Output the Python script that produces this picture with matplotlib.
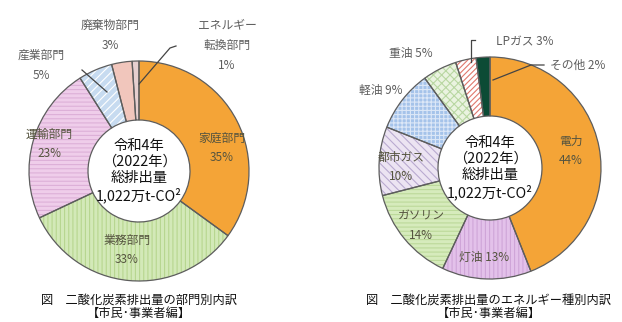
import matplotlib.pyplot as plt

plt.rcParams['font.family'] = ['Noto Sans CJK JP', 'DejaVu Sans']
plt.rcParams['hatch.linewidth'] = 0.8

# 部門別
bumon_labels = ['家庭部門', '業務部門', '運輸部門', '産業部門', '廃棄物部門', 'エネルギー転換部門']
bumon_values = [35, 33, 23, 5, 3, 1]

# エネルギー種別
energy_labels = ['電力', '灯油', 'ガソリン', '都市ガス', '軽油', '重油', 'LPガス', 'その他']
energy_values = [44, 13, 14, 10, 9, 5, 3, 2]

center_text = '令和4年\n（2022年）\n総排出量\n1,022万t-CO²'
caption_left = '図　二酸化炭素排出量の部門別内訳\n【市民･事業者編】'
caption_right = '図　二酸化炭素排出量のエネルギー種別内訳\n【市民･事業者編】'

W, H = 622, 322
fig = plt.figure(figsize=(W / 100, H / 100), dpi=100)
ax = fig.add_axes([0, 0, 1, 1])


def py(y):
    # 上からのピクセル位置 -> データ座標
    return H - y


def donut(values, center, radius, inner, fills, hatches, hatch_colors):
    cx, cy = center
    # 塗りとハッチ
    wedges, _ = ax.pie(values, center=(cx, py(cy)), radius=radius, startangle=90,
                       counterclock=False, colors=fills,
                       wedgeprops=dict(width=radius - inner, linewidth=0))
    for w, h, hc in zip(wedges, hatches, hatch_colors):
        if h:
            w.set_hatch(h)
            w.set_edgecolor(hc)
            w.set_linewidth(0)
    # 輪郭線
    ax.pie(values, center=(cx, py(cy)), radius=radius, startangle=90,
           counterclock=False, colors=['none'] * len(values),
           wedgeprops=dict(width=radius - inner, edgecolor='#5d5d5d', linewidth=0.9))
    ax.text(cx, py(cy), center_text, ha='center', va='center', fontsize=10.3,
            linespacing=1.2, color='#111111')


left_fills = ['#F4A437', '#D3E9B8', '#EFCDEA', '#C7DBF0', '#F1C6BC', '#E6CFCF']
left_hatch = [None, '||||', '----', '////', None, None]
left_hcol = [None, '#B7D68F', '#DDB0D8', '#FFFFFF', None, None]
donut(bumon_values, (139, 171), 110, 51, left_fills, left_hatch, left_hcol)

right_fills = ['#F4A437', '#E3C1EA', '#D6EBBC', '#ECE4F2', '#A5C3EA', '#EAF3E0', '#FFFFFF', '#0C4B35']
right_hatch = [None, '||||', '----', '\\\\\\\\', '++++', 'xxxx', '//////', None]
right_hcol = [None, '#CFA5D8', '#BCD99A', '#B9AAD0', '#DCE7F7', '#B9D7A2', '#E0786C', None]
donut(energy_values, (490, 168), 111, 52, right_fills, right_hatch, right_hcol)

inner_col = '#55543f'
outer_col = '#5e5e5e'
fs = 8.5

# 部門別のラベル
ax.text(222, py(148), '家庭部門\n35%', ha='center', va='center', fontsize=fs, color=inner_col, linespacing=1.6)
ax.text(127, py(250), '業務部門\n33%', ha='center', va='center', fontsize=fs, color=inner_col, linespacing=1.6)
ax.text(49, py(144), '運輸部門\n23%', ha='center', va='center', fontsize=fs, color=inner_col, linespacing=1.6)
ax.text(41, py(65), '産業部門\n5%', ha='center', va='center', fontsize=fs, color=outer_col, linespacing=1.7)
ax.text(110, py(35), '廃棄物部門\n3%', ha='center', va='center', fontsize=fs, color=outer_col, linespacing=1.7)
ax.text(227, py(45), 'エネルギー\n転換部門\n1%', ha='center', va='center', fontsize=fs, color=outer_col, linespacing=1.7)
ax.plot([82, 107], [py(70), py(92)], color='#444444', lw=0.9)
ax.plot([139, 170, 176], [py(84), py(48), py(46)], color='#444444', lw=0.9)

# エネルギー種別のラベル
ax.text(571, py(151), '電力\n44%', ha='center', va='center', fontsize=fs, color=inner_col, linespacing=1.6)
ax.text(484, py(257), '灯油 13%', ha='center', va='center', fontsize=fs, color=inner_col)
ax.text(421, py(226), 'ガソリン\n14%', ha='center', va='center', fontsize=fs, color=inner_col, linespacing=1.6)
ax.text(401, py(167), '都市ガス\n10%', ha='center', va='center', fontsize=fs, color=inner_col, linespacing=1.6)
ax.text(381, py(90), '軽油 9%', ha='center', va='center', fontsize=fs, color=outer_col)
ax.text(411, py(53), '重油 5%', ha='center', va='center', fontsize=fs, color=outer_col)
ax.text(525, py(42), 'LPガス 3%', ha='center', va='center', fontsize=fs, color=outer_col)
ax.text(578, py(65), 'その他 2%', ha='center', va='center', fontsize=fs, color=outer_col)
ax.plot([475, 471, 471], [py(40), py(40), py(62)], color='#444444', lw=0.9)
ax.plot([493, 531, 544], [py(80), py(65), py(65)], color='#444444', lw=0.9)

# キャプション
ax.text(139, py(307), caption_left, ha='center', va='center', fontsize=8.8, color='#111111', linespacing=1.05)
ax.text(489, py(307), caption_right, ha='center', va='center', fontsize=8.8, color='#111111', linespacing=1.05)

ax.set_xlim(0, W)
ax.set_ylim(0, H)
ax.set_aspect('equal')
ax.axis('off')

fig.savefig('out.png', dpi=100, facecolor='white')
